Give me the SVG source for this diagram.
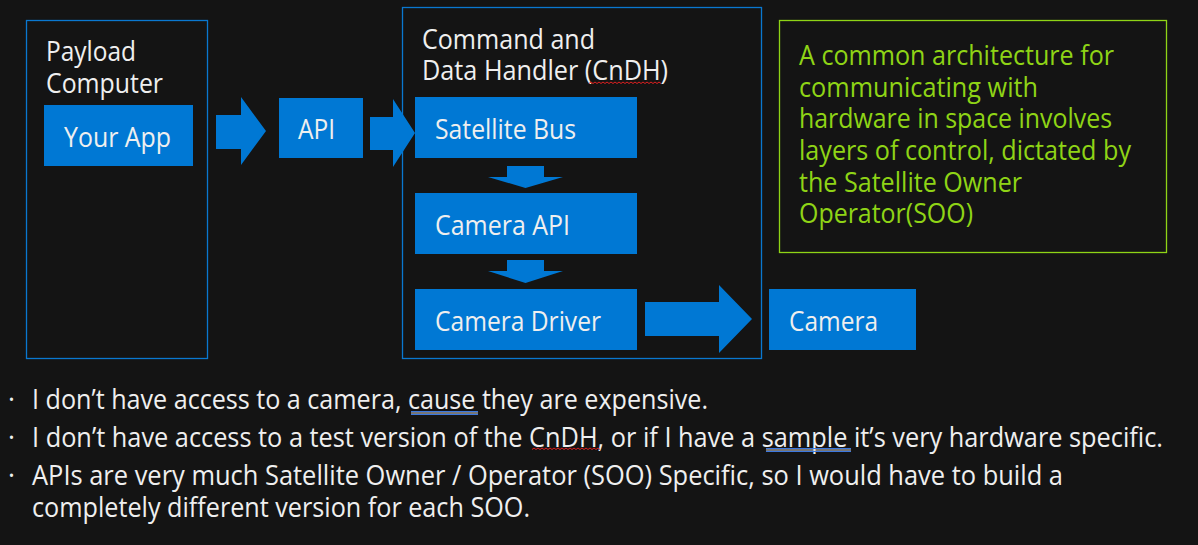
<svg xmlns="http://www.w3.org/2000/svg" width="1198" height="545" viewBox="0 0 1198 545">
  <style>
    .t{font-family:"Open Sans","Noto Sans",sans-serif;font-size:26.5px;fill:#efefef}
    .g{fill:#8fd416}
    .frame{fill:none;stroke:#0a78d0;stroke-width:1.3}
    .note{fill:none;stroke:#8fd416;stroke-width:1.3}
    .blk{fill:#0078d4}
    .arrow{fill:#0078d4}
    .squig{fill:none;stroke:#e02020;stroke-width:1}
    .dbl{fill:none;stroke:#3c78e0;stroke-width:1}
    .dblmid{fill:none;stroke:#d8d8d8;stroke-width:1}
  </style>
  <rect width="1198" height="545" fill="#141414"/>

  <!-- Payload computer -->
  <g id="payload">
    <rect class="frame" x="26.5" y="20.5" width="181" height="338"/>
    <text class="t" x="46" y="61" textLength="90" lengthAdjust="spacingAndGlyphs">Payload</text>
    <text class="t" x="46" y="93" textLength="117" lengthAdjust="spacingAndGlyphs">Computer</text>
  </g>
  <g id="your-app">
    <rect class="blk" x="44" y="105" width="149" height="61"/>
    <text class="t" x="64" y="146.5" textLength="107" lengthAdjust="spacingAndGlyphs">Your App</text>
  </g>

  <g id="api">
    <rect class="blk" x="279" y="98" width="84" height="60"/>
    <text class="t" x="298" y="138.5" textLength="37" lengthAdjust="spacingAndGlyphs">API</text>
  </g>

  <!-- Command and data handler -->
  <g id="cndh">
    <rect class="frame" x="402.5" y="7.5" width="359" height="351"/>
    <text class="t" x="422" y="49" textLength="173" lengthAdjust="spacingAndGlyphs">Command and</text>
    <text class="t" x="422" y="80" textLength="246" lengthAdjust="spacingAndGlyphs">Data Handler (CnDH)</text>
    <path class="squig" d="M589 83.5 l2 -1.5 l2 1.5 l2 -1.5 l2 1.5 l2 -1.5 l2 1.5 l2 -1.5 l2 1.5 l2 -1.5 l2 1.5 l2 -1.5 l2 1.5 l2 -1.5 l2 1.5 l2 -1.5 l2 1.5 l2 -1.5 l2 1.5 l2 -1.5 l2 1.5 l2 -1.5 l2 1.5 l2 -1.5 l2 1.5 l2 -1.5 l2 1.5 l2 -1.5 l2 1.5 l2 -1.5 l2 1.5 l2 -1.5 l2 1.5 l2 -1.5 l2 1.5 l2 -1.5 l2 1.5"/>
  </g>
  <g id="satellite-bus">
    <rect class="blk" x="415" y="97" width="222" height="61"/>
    <text class="t" x="435" y="138.5" textLength="141" lengthAdjust="spacingAndGlyphs">Satellite Bus</text>
  </g>
  <g id="camera-api">
    <rect class="blk" x="415" y="193" width="222" height="61"/>
    <text class="t" x="435" y="234.5" textLength="135" lengthAdjust="spacingAndGlyphs">Camera API</text>
  </g>
  <g id="camera-driver">
    <rect class="blk" x="415" y="289" width="222" height="61"/>
    <text class="t" x="435" y="330.5" textLength="166" lengthAdjust="spacingAndGlyphs">Camera Driver</text>
  </g>
  <g id="camera">
    <rect class="blk" x="769" y="289" width="147" height="61"/>
    <text class="t" x="789" y="330.5" textLength="89" lengthAdjust="spacingAndGlyphs">Camera</text>
  </g>

  <!-- Side note -->
  <g id="note">
    <rect class="note" x="779.5" y="20.5" width="387" height="232"/>
    <text class="t g" x="799" y="65" textLength="315" lengthAdjust="spacingAndGlyphs">A common architecture for</text>
    <text class="t g" x="799" y="96.5" textLength="239" lengthAdjust="spacingAndGlyphs">communicating with</text>
    <text class="t g" x="799" y="128.3" textLength="313" lengthAdjust="spacingAndGlyphs">hardware in space involves</text>
    <text class="t g" x="799" y="160" textLength="332" lengthAdjust="spacingAndGlyphs">layers of control, dictated by</text>
    <text class="t g" x="799" y="191.7" textLength="223" lengthAdjust="spacingAndGlyphs">the Satellite Owner</text>
    <text class="t g" x="799" y="223.4" textLength="174" lengthAdjust="spacingAndGlyphs">Operator(SOO)</text>
  </g>

  <!-- Flow arrows -->
  <g id="connectors">
    <polygon class="arrow" points="216,115 241,115 241,97 266,131 241,165 241,149 216,149"/>
    <polygon class="arrow" points="370,117 393,117 393,99 415,133 393,167 393,150 370,150"/>
    <polygon class="arrow" points="507,166 544,166 544,177 563,177 525.5,188 488,177 507,177"/>
    <polygon class="arrow" points="507,260 544,260 544,271 563,271 525.5,283 488,271 507,271"/>
    <polygon class="arrow" points="645,302 719,302 719,285 752,319 719,353 719,336 645,336"/>
  </g>

  <!-- Bullet list -->
  <g id="bullets">
    <text class="t" x="8" y="409">·</text>
    <text class="t" x="32" y="409.3" textLength="676" lengthAdjust="spacingAndGlyphs">I don’t have access to a camera, cause they are expensive.</text>
    <path class="dbl" d="M411 411.5 H478 M411 414.5 H478"/>
    <path class="dblmid" d="M411 413 H478"/>
    <text class="t" x="8" y="446.5">·</text>
    <text class="t" x="32" y="446.7" textLength="1131" lengthAdjust="spacingAndGlyphs">I don’t have access to a test version of the CnDH, or if I have a sample it’s very hardware specific.</text>
    <path class="squig" d="M532 449.5 l2 -1.5 l2 1.5 l2 -1.5 l2 1.5 l2 -1.5 l2 1.5 l2 -1.5 l2 1.5 l2 -1.5 l2 1.5 l2 -1.5 l2 1.5 l2 -1.5 l2 1.5 l2 -1.5 l2 1.5 l2 -1.5 l2 1.5 l2 -1.5 l2 1.5 l2 -1.5 l2 1.5 l2 -1.5 l2 1.5 l2 -1.5 l2 1.5 l2 -1.5 l2 1.5 l2 -1.5 l2 1.5 l2 -1.5 l2 1.5 l2 -1.5 l2 1.5"/>
    <path class="dbl" d="M766 448.5 H851 M766 451.5 H851"/>
    <path class="dblmid" d="M766 450 H851"/>
    <text class="t" x="8" y="485">·</text>
    <text class="t" x="32" y="485" textLength="1031" lengthAdjust="spacingAndGlyphs">APIs are very much Satellite Owner / Operator (SOO) Specific, so I would have to build a</text>
    <text class="t" x="32" y="516.7" textLength="498" lengthAdjust="spacingAndGlyphs">completely different version for each SOO.</text>
  </g>
</svg>
